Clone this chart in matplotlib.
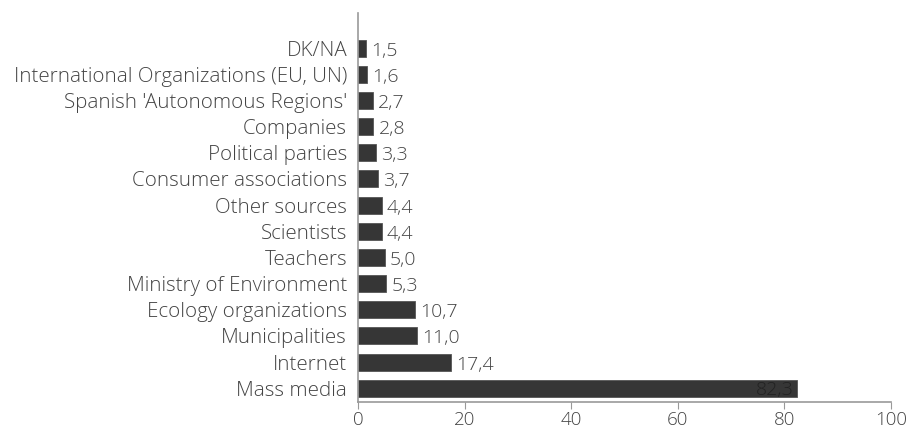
import numpy as np
import matplotlib.pyplot as plt

# sources of environmental information (%)
categories = ["DK/NA", "International Organizations (EU, UN)", "Spanish 'Autonomous Regions'",
              "Companies", "Political parties", "Consumer associations", "Other sources",
              "Scientists", "Teachers", "Ministry of Environment", "Ecology organizations",
              "Municipalities", "Internet", "Mass media"]
values = [1.5, 1.6, 2.7, 2.8, 3.3, 3.7, 4.4, 4.4, 5.0, 5.3, 10.7, 11.0, 17.4, 82.3]
xticks = [0, 20, 40, 60, 80, 100]

plt.rcParams['font.family'] = ['Open Sans', 'DejaVu Sans']
plt.rcParams['font.weight'] = 'light'

fig = plt.figure(figsize=(9.09, 4.32), dpi=100)
ax = fig.add_axes([0.394, 0.069, 0.586, 0.901])

y = np.arange(len(categories))
ax.barh(y, values, height=0.65, color='#363636', edgecolor='#555555', linewidth=0.6)

for yi, v in zip(y, values):
    txt = f"{v:.1f}".replace('.', ',')
    if v > 50:
        ax.text(v - 0.6, yi + 0.05, txt, ha='right', va='center', fontsize=14, color='#222222')
    else:
        ax.text(v + 1.0, yi + 0.1, txt, ha='left', va='center', fontsize=14, color='#444444')

ax.set_yticks(y)
ax.set_yticklabels(categories, fontsize=14.8, color='#444444')
ax.set_ylim(len(categories) - 0.465, -1.34)
ax.set_xlim(0, 100)
ax.set_xticks(xticks)
ax.set_xticklabels([str(t) for t in xticks], fontsize=13.5, color='#444444')

ax.tick_params(axis='y', length=0, pad=8)
ax.tick_params(axis='x', length=5, color='#999999', pad=1.5)
for s in ['top', 'right']:
    ax.spines[s].set_visible(False)
for s in ['left', 'bottom']:
    ax.spines[s].set_color('#999999')
    ax.spines[s].set_linewidth(1.2)

fig.savefig('out.png', dpi=100)
